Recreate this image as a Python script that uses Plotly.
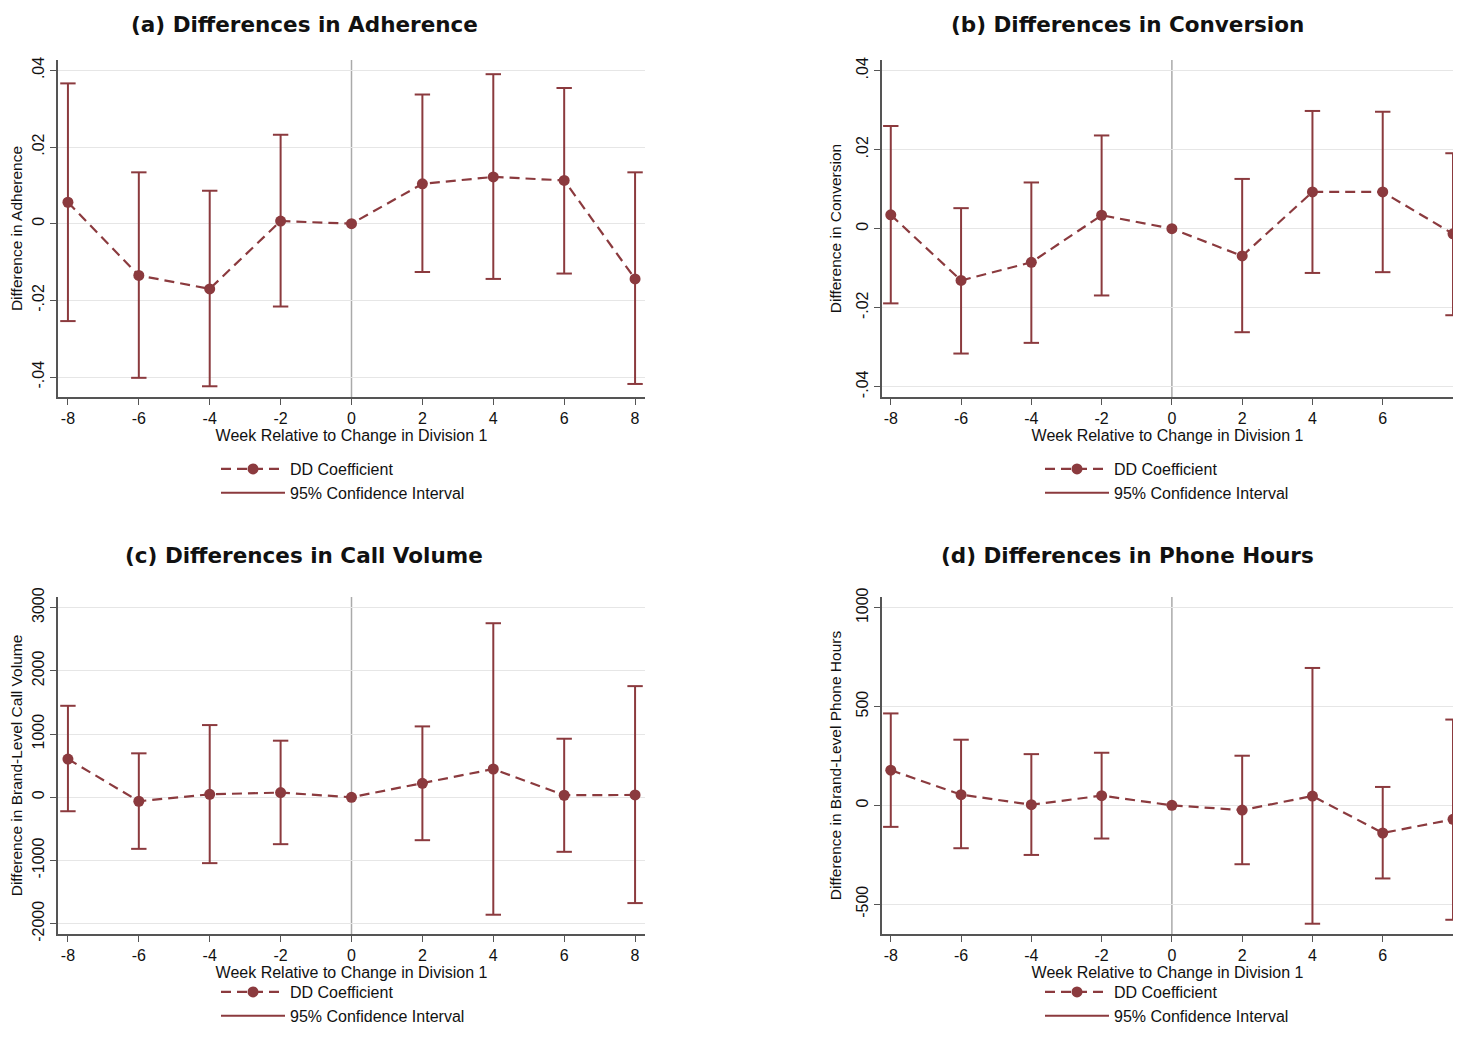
import plotly.graph_objects as go

# event-study estimates
weeks = [-8, -6, -4, -2, 0, 2, 4, 6, 8]

adh_coef = [0.0056, -0.0135, -0.0170, 0.0007, 0.0, 0.0104, 0.0122, 0.0113, -0.0144]
adh_hi = [0.0366, 0.0134, 0.0086, 0.0232, None, 0.0337, 0.0390, 0.0354, 0.0134]
adh_lo = [-0.0254, -0.0402, -0.0424, -0.0216, None, -0.0126, -0.0144, -0.0130, -0.0418]

conv_coef = [0.0035, -0.0131, -0.0085, 0.0034, 0.0, -0.0069, 0.0093, 0.0093, -0.0013]
conv_hi = [0.0260, 0.0052, 0.0117, 0.0236, None, 0.0126, 0.0298, 0.0296, 0.0191]
conv_lo = [-0.0189, -0.0316, -0.0289, -0.0169, None, -0.0262, -0.0112, -0.0110, -0.0219]

call_coef = [605, -63, 47, 74, 0, 221, 447, 32, 37]
call_hi = [1447, 695, 1142, 895, None, 1121, 2753, 926, 1758]
call_lo = [-221, -816, -1042, -742, None, -679, -1858, -863, -1674]

hrs_coef = [178, 54, 3, 49, 0, -24, 47, -140, -71]
hrs_hi = [465, 332, 259, 266, None, 251, 695, 93, 434]
hrs_lo = [-109, -217, -251, -168, None, -298, -599, -370, -579]

titles = ["(a) Differences in Adherence", "(b) Differences in Conversion",
          "(c) Differences in Call Volume", "(d) Differences in Phone Hours"]
ytitles = ["Difference in Adherence", "Difference in Conversion",
           "Difference in Brand-Level Call Volume", "Difference in Brand-Level Phone Hours"]
yticks = [[-0.04, -0.02, 0, 0.02, 0.04], [-0.04, -0.02, 0, 0.02, 0.04],
          [-2000, -1000, 0, 1000, 2000, 3000], [-500, 0, 500, 1000]]
yticklabels = [["-.04", "-.02", "0", ".02", ".04"], ["-.04", "-.02", "0", ".02", ".04"],
               ["-2000", "-1000", "0", "1000", "2000", "3000"], ["-500", "0", "500", "1000"]]
yranges = [[-0.0452, 0.0427], [-0.0426, 0.0427], [-2163, 3168], [-651, 1054]]
xlabel = "Week Relative to Change in Division 1"

panels = [(adh_coef, adh_lo, adh_hi), (conv_coef, conv_lo, conv_hi),
          (call_coef, call_lo, call_hi), (hrs_coef, hrs_lo, hrs_hi)]

OFF = 8  # page body margin on every side
W, H = 1461 - 2 * OFF, 1039 - 2 * OFF
RED = "#8B3A3E"
FONT = "Liberation Sans, Arial, sans-serif"

def px(p):
    return (p - OFF) / W

def py(p):
    return 1 - (p - OFF) / H

# pixel boxes of each plot area: left, right, top, bottom
boxes = [(58, 645, 60, 397), (882, 1453, 60, 397),
         (58, 645, 597, 934), (882, 1453, 597, 934)]
xranges = [[-8.28, 8.28], [-8.25, 8.0], [-8.28, 8.28], [-8.25, 8.0]]
title_pos = [(304, 25), (1127, 25), (304, 555), (1127, 555)]
legend_top = [452, 452, 975, 975]

fig = go.Figure()
layout = dict(width=W, height=H, margin=dict(l=0, r=0, t=0, b=0, autoexpand=False),
              paper_bgcolor="white", plot_bgcolor="white",
              font=dict(family=FONT, size=16, color="#111"))
annotations = []
shapes = []

for i, (coef, lo, hi) in enumerate(panels):
    n = i + 1
    xa = "x" if n == 1 else f"x{n}"
    ya = "y" if n == 1 else f"y{n}"
    lg = "legend" if n == 1 else f"legend{n}"
    l, r, t, b = boxes[i]

    # CI bars as vertical segments
    cx, cy = [], []
    capx, capy = [], []
    for w, a, c in zip(weeks, lo, hi):
        if a is None:
            continue
        cx += [w, w, None]
        cy += [a, c, None]
        capx += [w, w]
        capy += [a, c]
    fig.add_trace(go.Scatter(x=capx, y=capy, mode="markers", xaxis=xa, yaxis=ya,
                             marker=dict(symbol="line-ew", size=11, line=dict(color=RED, width=2)),
                             showlegend=False, hoverinfo="skip"))
    fig.add_trace(go.Scatter(x=cx, y=cy, mode="lines", xaxis=xa, yaxis=ya,
                             line=dict(color=RED, width=2),
                             name="95% Confidence Interval", legend=lg, legendrank=2))
    fig.add_trace(go.Scatter(x=weeks, y=coef, mode="lines+markers", xaxis=xa, yaxis=ya,
                             line=dict(color=RED, width=2.2, dash="10px,6px"),
                             marker=dict(color=RED, size=11),
                             name="DD Coefficient", legend=lg, legendrank=1))

    layout["xaxis" if n == 1 else f"xaxis{n}"] = dict(
        domain=[px(l), min(px(r), 1)], range=xranges[i], anchor=ya,
        tickvals=weeks, ticktext=[str(w) for w in weeks],
        ticks="outside", ticklen=6, tickcolor="#555", showgrid=False, zeroline=False,
        showline=True, linecolor="#555", linewidth=1.5,
        tickfont=dict(size=16),
        title=dict(text=xlabel, font=dict(size=16), standoff=3))
    layout["yaxis" if n == 1 else f"yaxis{n}"] = dict(
        domain=[py(b), py(t)], range=yranges[i], anchor=xa,
        tickvals=yticks[i], ticktext=yticklabels[i], tickangle=-90,
        ticks="outside", ticklen=6, tickcolor="#555",
        showgrid=True, gridcolor="#e6e6e6", gridwidth=1.2, zeroline=False,
        showline=True, linecolor="#555", linewidth=1.5,
        tickfont=dict(size=16),
        title=dict(text=ytitles[i], font=dict(size=15.5), standoff=8))
    layout[lg] = dict(x=px(l + 158), y=py(legend_top[i]), xanchor="left", yanchor="top",
                      orientation="v", bgcolor="rgba(0,0,0,0)",
                      font=dict(size=16, family=FONT), tracegroupgap=2, itemwidth=64)

    shapes.append(dict(type="line", xref=xa, yref=f"{ya} domain", x0=0, x1=0, y0=0, y1=1,
                       line=dict(color="#aaaaaa", width=1.5), layer="below"))
    tx, ty = title_pos[i]
    annotations.append(dict(text=f"<b>{titles[i]}</b>", x=px(tx), y=py(ty),
                            xref="paper", yref="paper", showarrow=False,
                            xanchor="center", yanchor="middle",
                            font=dict(size=21.5, family="DejaVu Sans, sans-serif", color="#111")))

layout["annotations"] = annotations
layout["shapes"] = shapes
fig.update_layout(**layout)

fig.write_html("out.html")
